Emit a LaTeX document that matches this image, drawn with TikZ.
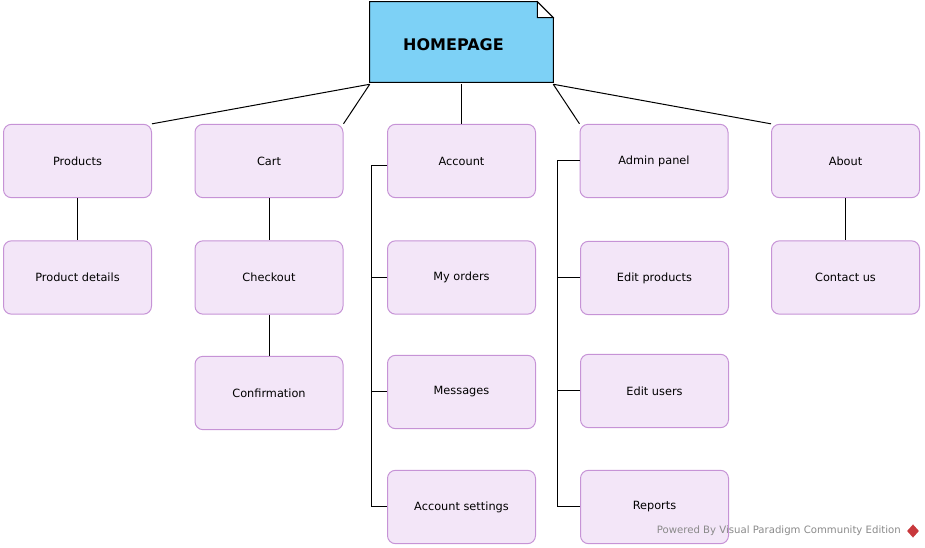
\documentclass[tikz,border=0pt]{standalone}
\usepackage{fontspec}
\setmainfont{DejaVu Sans}
\usetikzlibrary{shapes.geometric}
\definecolor{homefill}{HTML}{7DD1F6}
\definecolor{boxfill}{HTML}{F3E6F8}
\definecolor{boxline}{HTML}{C693D6}
\definecolor{wmgray}{HTML}{8A8A8A}
\definecolor{wmred}{HTML}{C8383C}
\tikzset{
  page/.style={draw=boxline, fill=boxfill, rounded corners=6pt, line width=0.75pt,
    minimum width=111pt, minimum height=55pt, inner sep=0pt,
    font=\fontsize{8.5}{10}\selectfont},
  link/.style={draw=black, line width=0.75pt},
}
\begin{document}
\begin{tikzpicture}[x=0.75pt, y=-0.75pt]
\useasboundingbox (0,0) rectangle (925,548);
% homepage note
\node[minimum width=137.25pt, minimum height=60pt, inner sep=0pt] (home) at (461.5,42) {};
\draw[fill=homefill, line width=0.75pt]
  (home.south west) -- (home.north west) -- ([xshift=-12pt]home.north east)
  -- ([yshift=-12pt]home.north east) -- (home.south east) -- cycle;
\draw[fill=white, line width=0.75pt]
  ([xshift=-12pt]home.north east) -- ([xshift=-12pt,yshift=-12pt]home.north east)
  -- ([yshift=-12pt]home.north east) -- cycle;
\node[font=\fontsize{12}{14}\selectfont\bfseries] (hometext) at (453.5,45) {HOMEPAGE};

% level 1
\node[page] (products) at (77.5,161) {Products};
\node[page] (cart) at (269,161) {Cart};
\node[page] (account) at (461.5,161) {Account};
\node[page] (admin) at (654,161) {Admin panel};
\node[page] (about) at (845.5,161) {About};

% level 2+
\node[page] (details) at (77.5,277.5) {Product details};
\node[page] (checkout) at (269,277.5) {Checkout};
\node[page] (confirm) at (269,393) {Confirmation};
\node[page] (orders) at (461.5,277.5) {My orders};
\node[page] (messages) at (461.5,392) {Messages};
\node[page] (settings) at (461.5,507) {Account settings};
\node[page] (editprod) at (654.5,278) {Edit products};
\node[page] (editusers) at (654.5,391) {Edit users};
\node[page] (reports) at (654.5,507) {Reports};
\node[page] (contact) at (845.5,277.5) {Contact us};

% connectors from homepage
\draw[link] ([yshift=-1.5pt]home.south west) -- (products.north east);
\draw[link] ([yshift=-1.5pt]home.south west) -- (cart.north east);
\draw[link] ([yshift=-1.5pt]home.south) -- (account.north);
\draw[link] ([yshift=-1.5pt]home.south east) -- (admin.north west);
\draw[link] ([yshift=-1.5pt]home.south east) -- (about.north west);

% vertical chains
\draw[link] (products.south) -- (details.north);
\draw[link] (cart.south) -- (checkout.north);
\draw[link] (checkout.south) -- (confirm.north);
\draw[link] (about.south) -- (contact.north);

% account bracket
\coordinate (accA) at ([yshift=-3.75pt]account.west);
\draw[link] (accA) -- ++(-16,0) |- (settings.west);
\draw[link] (orders.west) -- ++(-16,0);
\draw[link] (messages.west) -- ++(-16,0);

% admin bracket
\draw[link] (admin.west) -- ++(-22,0) |- (reports.west);
\draw[link] (editprod.west) -- ++(-22,0);
\draw[link] (editusers.west) -- ++(-22,0);

% watermark
\node[anchor=east, text=wmgray, font=\fontsize{7.6}{8.5}\selectfont, inner sep=0pt] (wm) at (901,531) {Powered By Visual Paradigm Community Edition};
\node[diamond, fill=wmred, minimum width=9pt, minimum height=10pt, inner sep=0pt] (wmlogo) at (913,531) {};
\end{tikzpicture}
\end{document}
